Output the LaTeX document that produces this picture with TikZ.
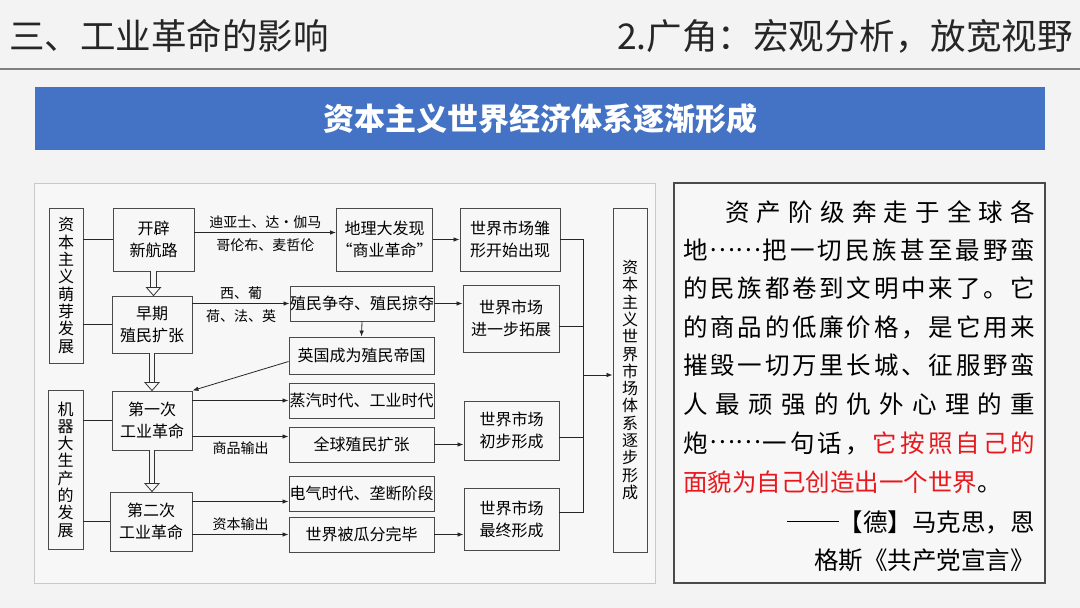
\documentclass[tikz,border=0pt]{standalone}
\usepackage{fontspec}
\setmainfont{Noto Sans CJK SC}
\usetikzlibrary{positioning, arrows.meta, calc}

\definecolor{pagebg}{HTML}{F3F3F3}
\definecolor{panelbg}{HTML}{F7F7F7}
\definecolor{panelline}{HTML}{C8C8C8}
\definecolor{boxline}{HTML}{4A4A4A}
\definecolor{banner}{HTML}{4472C4}
\definecolor{headtext}{HTML}{262626}
\definecolor{quotered}{HTML}{E8191E}

% spread the items of one quote line over a given width
\def\qend{\qend}
\def\qstop#1\qspreadB{}
\def\qspreadA#1{#1\qspreadB}
\def\qspreadB#1{\ifx\qend#1\expandafter\qstop\fi\hfil#1\qspreadB}
\newcommand\qline[2]{\hbox to #1{\qspreadA#2\qend}}
\newcommand\qdots{\makebox[2em]{\raisebox{0.33em}{……}}}
\newcommand\qdash{\rule[0.36em]{2.1em}{1.1pt}}

\begin{document}
\begin{tikzpicture}[x=1pt, y=-1pt,
    box/.style={draw=boxline, line width=0.9pt, fill=panelbg, align=center, inner sep=0pt,
        font=\fontsize{16}{22}\selectfont},
    tallbox/.style={box, font=\fontsize{16}{17.3}\selectfont},
    lab/.style={font=\fontsize{14}{15}\selectfont, inner sep=1.5pt},
    arr/.style={draw=black!85, line width=0.8pt, -{Latex[length=6pt, width=4.5pt]}},
    link/.style={draw=black!85, line width=0.8pt},
    qtext/.style={anchor=west, inner sep=0pt, font=\fontsize{24.5}{28}\selectfont}]

    \useasboundingbox (0,0) rectangle (1080,608);
    \fill[pagebg] (0,0) rectangle (1080,608);

    % header
    \node[anchor=west, inner sep=0pt, text=headtext, font=\fontsize{35.5}{38}\selectfont] (head) at (9,36) {三、工业革命的影响};
    \node[anchor=east, inner sep=0pt, text=headtext, font=\fontsize{35.5}{38}\selectfont] (sub) at (1073,36) {2.广角：宏观分析，放宽视野};
    \draw[black!50, line width=1.2pt] (0,69) -- (1080,69);
    \node[fill=banner, minimum width=1010pt, minimum height=63pt, inner sep=0pt, text=white,
        font=\bfseries\fontsize{31}{34}\selectfont] (title) at (540,118.5) {资本主义世界经济体系逐渐形成};

    % panels
    \draw[panelline, fill=panelbg, line width=1pt] (34,183) rectangle (655,583);
    \draw[boxline, fill=panelbg, line width=1.2pt] (674,183) rectangle (1045,583);

    % boxes
    \node[tallbox, minimum width=34pt, minimum height=155pt] (sprout) at (66,285.5) {资\\本\\主\\义\\萌\\芽\\发\\展};
    \node[box, minimum width=81pt, minimum height=63pt] (route) at (153.5,239.5) {开辟\\新航路};
    \node[box, minimum width=80pt, minimum height=57pt] (early) at (152,324.5) {早期\\殖民扩张};
    \node[box, minimum width=95pt, minimum height=63pt] (geo) at (384.5,239.5) {地理大发现\\“商业革命”};
    \node[box, minimum width=100pt, minimum height=63pt] (embryo) at (510,239.5) {世界市场雏\\形开始出现};
    \node[box, minimum width=142pt, minimum height=35pt] (rivalry) at (362,303.5) {殖民争夺、殖民掠夺};
    \node[box, minimum width=96pt, minimum height=67pt] (expand) at (511,318.5) {世界市场\\进一步拓展};
    \node[box, minimum width=145pt, minimum height=37pt] (empire) at (361.5,355.5) {英国成为殖民帝国};
    \node[tallbox, minimum width=35pt, minimum height=159pt] (machine) at (65.5,469.5) {机\\器\\大\\生\\产\\的\\发\\展};
    \node[box, minimum width=80pt, minimum height=59pt] (ir1) at (152,420.5) {第一次\\工业革命};
    \node[box, minimum width=82pt, minimum height=59pt] (ir2) at (151,521.5) {第二次\\工业革命};
    \node[box, minimum width=145pt, minimum height=35pt] (steam) at (361.5,400.5) {蒸汽时代、工业时代};
    \node[box, minimum width=145pt, minimum height=35pt] (global) at (361.5,444.5) {全球殖民扩张};
    \node[box, minimum width=95pt, minimum height=59pt] (initial) at (511.5,430.5) {世界市场\\初步形成};
    \node[box, minimum width=145pt, minimum height=35pt] (electric) at (361.5,493.5) {电气时代、垄断阶段};
    \node[box, minimum width=145pt, minimum height=35pt] (carved) at (361.5,534.5) {世界被瓜分完毕};
    \node[box, minimum width=95pt, minimum height=62pt] (final) at (511.5,519) {世界市场\\最终形成};
    \node[tallbox, minimum width=34pt, minimum height=344pt] (system) at (630,380) {资\\本\\主\\义\\世\\界\\市\\场\\体\\系\\逐\\步\\形\\成};
    \coordinate (hub) at (583,375);
    \coordinate (globalin) at ([yshift=8pt]global.west);
    \coordinate (electricin) at ([yshift=-8pt]electric.west);

    % plain links
    \draw[link] (route.west) -- (route.west -| sprout.east);
    \draw[link] (early.west) -- (early.west -| sprout.east);
    \draw[link] (ir1.west) -- (ir1.west -| machine.east);
    \draw[link] (ir2.west) -- (ir2.west -| machine.east);

    % arrows
    \draw[arr] ([yshift=7pt]route.east) -- ([yshift=7pt]route.east -| geo.west)
        node[lab, midway, above=2pt] {迪亚士、达·伽马}
        node[lab, midway, below=4pt] {哥伦布、麦哲伦};
    \draw[arr] (geo) -- (embryo);
    \draw[arr] (early.east |- rivalry.west) -- (rivalry.west)
        node[lab, midway, above=2pt] {西、葡}
        node[lab, midway, below=4pt] {荷、法、英};
    \draw[arr] (rivalry) -- (rivalry -| expand.west);
    \draw[arr] (rivalry.south) -- (empire.north);
    \draw[arr] ([yshift=-6pt]empire.west) -- (ir1.north east);
    \draw[arr] (ir1.east |- steam.west) -- (steam.west);
    \draw[arr] (ir1.east |- globalin) -- (globalin)
        node[lab, midway, below=3pt] {商品输出};
    \draw[arr] (global) -- (global -| initial.west);
    \draw[arr] (ir2.east |- electricin) -- (electricin);
    \draw[arr] (ir2.east |- carved.west) -- (carved.west)
        node[lab, midway, above=2pt] {资本输出};
    \draw[arr] (carved) -- (carved -| final.west);

    % collector on the right
    \draw[link] (embryo.east) -| (hub);
    \draw[link] ([yshift=7pt]final.east) -| (hub);
    \draw[link] ([yshift=-8pt]expand.east) -- ([yshift=-8pt]expand.east -| hub);
    \draw[link] ([yshift=-7pt]initial.east) -- ([yshift=-7pt]initial.east -| hub);
    \draw[arr] (hub) -- (hub -| system.west);

    % hollow arrows between the stages
    \foreach \a/\b in {route/early, early/ir1, ir1/ir2} {
        \draw[draw=black!80, line width=0.8pt, double=panelbg, double distance=4.5pt]
            (\a.south) -- ($(\a.south |- \b.north)+(0,-7)$);
        \draw[draw=black!80, line width=0.8pt, fill=panelbg]
            ($(\a.south |- \b.north)+(-7,-8)$) -- (\a.south |- \b.north) -- ($(\a.south |- \b.north)+(7,-8)$) -- cycle;
    }

    % quotation
    \node[qtext] (q1) at (725,212) {\qline{310pt}{资产阶级奔走于全球各}};
    \node[qtext] (q2) at (683,250) {\qline{352pt}{地\qdots 把一切民族甚至最野蛮}};
    \node[qtext] (q3) at (683,288) {\qline{352pt}{的民族都卷到文明中来了。它}};
    \node[qtext] (q4) at (683,327) {\qline{352pt}{的商品的低廉价格，是它用来}};
    \node[qtext] (q5) at (683,365) {\qline{352pt}{摧毁一切万里长城、征服野蛮}};
    \node[qtext] (q6) at (683,404) {\qline{352pt}{人最顽强的仇外心理的重}};
    \node[qtext] (q7) at (683,443) {\qline{352pt}{炮\qdots 一句话，{\color{quotered}它}按照自己的}};
    \node[qtext] (q8) at (683,482) {{\color{quotered}面貌为自己创造出一个世界}。};
    \node[qtext, anchor=east] (q9) at (1035,522) {\qdash 【德】马克思，恩};
    \node[qtext, anchor=east] (q10) at (1035,560) {格斯《共产党宣言》};

\end{tikzpicture}
\end{document}
